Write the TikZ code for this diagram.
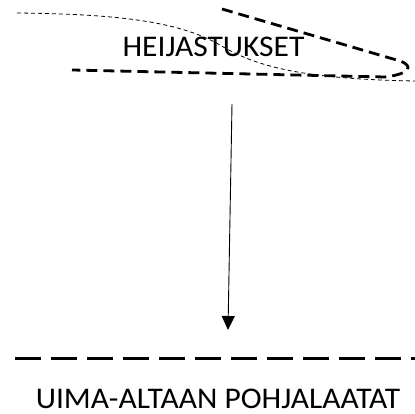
\documentclass[tikz,border=0pt]{standalone}
\usepackage{fontspec}
\setmainfont{Carlito}
\usetikzlibrary{arrows.meta}
\begin{document}
\begin{tikzpicture}[x=1pt,y=-1pt,
  lbl/.style={anchor=base,inner sep=0pt,xscale=1.05,font=\fontsize{30}{34}\selectfont},
  thindash/.style={line width=0.8pt,dash pattern=on 4pt off 3pt},
  thickdash/.style={line width=2.8pt,dash pattern=on 11pt off 6pt},
  floordash/.style={line width=3pt,dash pattern=on 26pt off 10pt},
  arr/.style={line width=0.9pt,-{Triangle[width=13pt,length=14pt]}}]
\useasboundingbox (0,0) rectangle (415,414);
% thin dashed reflection curve
\draw[thindash] (17,13) .. controls (120,14) and (180,22) .. (220,45)
  .. controls (255,66) and (300,79) .. (415,81);
% thick dashed reflection shape
\draw[thickdash] (222,9) -- (400,61) .. controls (414,66) and (410,74) .. (385,77) -- (72,70);
\node[lbl] (heij) at (213.5,56.5) {HEIJASTUKSET};
\coordinate (astart) at (232,104);
\coordinate (aend) at (228,330);
\draw[arr] (astart) -- (aend);
\coordinate (fl) at (15,358);
\coordinate (fr) at (415,358);
\draw[floordash] (fl) -- (fr);
\node[lbl] (uima) at (218,408) {UIMA-ALTAAN POHJALAATAT};
\end{tikzpicture}
\end{document}
